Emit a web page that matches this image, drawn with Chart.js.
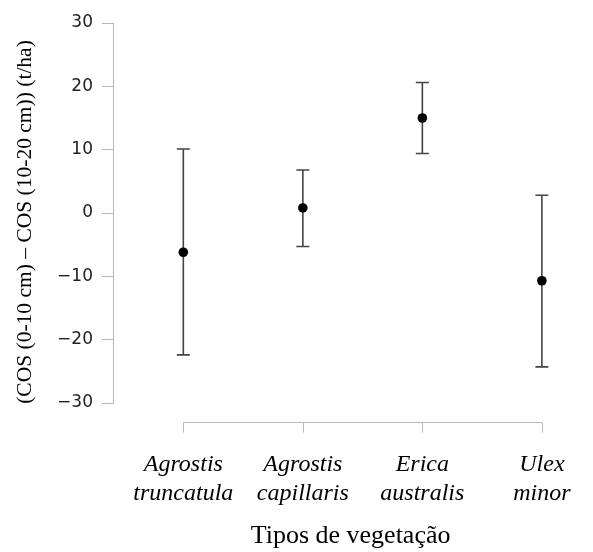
<!DOCTYPE html>
<html>
<head>
<meta charset="utf-8">
<script src="https://cdn.jsdelivr.net/npm/chart.js@4/dist/chart.umd.min.js"></script>
<style>
  body { margin: 0; background: #fff; }
  #wrap { width: 593px; height: 552px; }
</style>
</head>
<body>
<div id="wrap"><canvas id="chart" width="593" height="552"></canvas></div>
<script>
// categorias (vegetação) e valores
var categories = [
	['Agrostis', 'truncatula'],
	['Agrostis', 'capillaris'],
	['Erica', 'australis'],
	['Ulex', 'minor']
];
var means = [-6.2, 0.8, 15.0, -10.7];
var upper = [10.1, 6.8, 20.6, 2.8];
var lower = [-22.4, -5.3, 9.4, -24.3];
var yTicks = [-30, -20, -10, 0, 10, 20, 30];
var yTitle = '(COS (0-10 cm) \u2013 COS (10-20 cm)) (t/ha)';

var axisColor = '#b8b8b8';
var barColor = '#444444';

// barras de erro desenhadas com as escalas do Chart.js
var errorBars = {
	id: 'errorBars',
	beforeDatasetsDraw: function(chart) {
		var ctx = chart.ctx, xs = chart.scales.x, ys = chart.scales.y;
		ctx.save();
		ctx.strokeStyle = barColor;
		ctx.lineWidth = 1.6;
		for (var i = 0; i < means.length; i++) {
			var x = xs.getPixelForValue(i + 1);
			var yHi = ys.getPixelForValue(upper[i]);
			var yLo = ys.getPixelForValue(lower[i]);
			ctx.beginPath();
			ctx.moveTo(x, yHi); ctx.lineTo(x, yLo);
			ctx.moveTo(x - 6.5, yHi); ctx.lineTo(x + 6.5, yHi);
			ctx.moveTo(x - 6.5, yLo); ctx.lineTo(x + 6.5, yLo);
			ctx.stroke();
		}
		ctx.restore();
	}
};

// eixo x afastado da área do gráfico + título do eixo y
var detachedXAxis = {
	id: 'detachedXAxis',
	afterDraw: function(chart) {
		var ctx = chart.ctx, xs = chart.scales.x, ys = chart.scales.y;
		var y = Math.round(chart.chartArea.bottom + 19) + 0.5;
		var x0 = xs.getPixelForValue(1), x1 = xs.getPixelForValue(categories.length);
		ctx.save();
		ctx.strokeStyle = axisColor;
		ctx.lineWidth = 1;
		ctx.beginPath();
		ctx.moveTo(x0, y); ctx.lineTo(x1, y);
		for (var i = 0; i < categories.length; i++) {
			var x = Math.round(xs.getPixelForValue(i + 1)) + 0.5;
			ctx.moveTo(x, y); ctx.lineTo(x, y + 10);
		}
		ctx.stroke();

		ctx.translate(25, (ys.top + ys.bottom) / 2 + 9);
		ctx.rotate(-Math.PI / 2);
		ctx.fillStyle = '#000';
		ctx.font = '21.5px "Liberation Serif"';
		ctx.textAlign = 'center';
		ctx.textBaseline = 'middle';
		ctx.fillText(yTitle, 0, 0);
		ctx.restore();
	}
};

var points = means.map(function(v, i) { return { x: i + 1, y: v }; });

new Chart(document.getElementById('chart').getContext('2d'), {
	type: 'scatter',
	data: {
		datasets: [{
			data: points,
			pointRadius: 4.8,
			pointHoverRadius: 4.8,
			pointBackgroundColor: '#000',
			pointBorderColor: '#000',
			pointBorderWidth: 0
		}]
	},
	plugins: [errorBars, detachedXAxis],
	options: {
		responsive: false,
		animation: false,
		layout: { padding: { top: 23, right: 0, bottom: 0, left: 0 } },
		plugins: {
			legend: { display: false },
			tooltip: { enabled: false }
		},
		scales: {
			x: {
				type: 'linear',
				min: 0.4116,
				max: 4.3876,
				afterFit: function(s) {
					s.height = 149;
					s.paddingLeft = 0;
					s.paddingRight = 0;
				},
				afterBuildTicks: function(s) {
					s.ticks = categories.map(function(c, i) { return { value: i + 1 }; });
				},
				grid: { display: false },
				border: { display: false },
				ticks: {
					padding: 39,
					autoSkip: false,
					maxRotation: 0,
					color: '#000',
					font: { family: 'Liberation Serif', size: 24, style: 'italic' },
					callback: function(v) { return categories[v - 1]; }
				},
				title: {
					display: true,
					text: 'Tipos de vegetação',
					color: '#000',
					font: { family: 'Liberation Serif', size: 26 },
					padding: { top: 0, bottom: 0 }
				}
			},
			y: {
				min: -30,
				max: 30,
				afterFit: function(s) {
					s.width = 113;
					s.paddingTop = 0;
					s.paddingBottom = 0;
				},
				afterBuildTicks: function(s) {
					s.ticks = yTicks.map(function(v) { return { value: v }; });
				},
				grid: {
					drawOnChartArea: false,
					tickLength: 11,
					color: axisColor,
					lineWidth: 1
				},
				border: { display: true, color: axisColor, width: 1 },
				ticks: {
					padding: 9,
					color: '#222',
					font: { family: 'DejaVu Sans', size: 17 },
					callback: function(v) { return v < 0 ? '\u2212' + Math.abs(v) : String(v); }
				},
				title: { display: false }
			}
		}
	}
});
</script>
</body>
</html>
